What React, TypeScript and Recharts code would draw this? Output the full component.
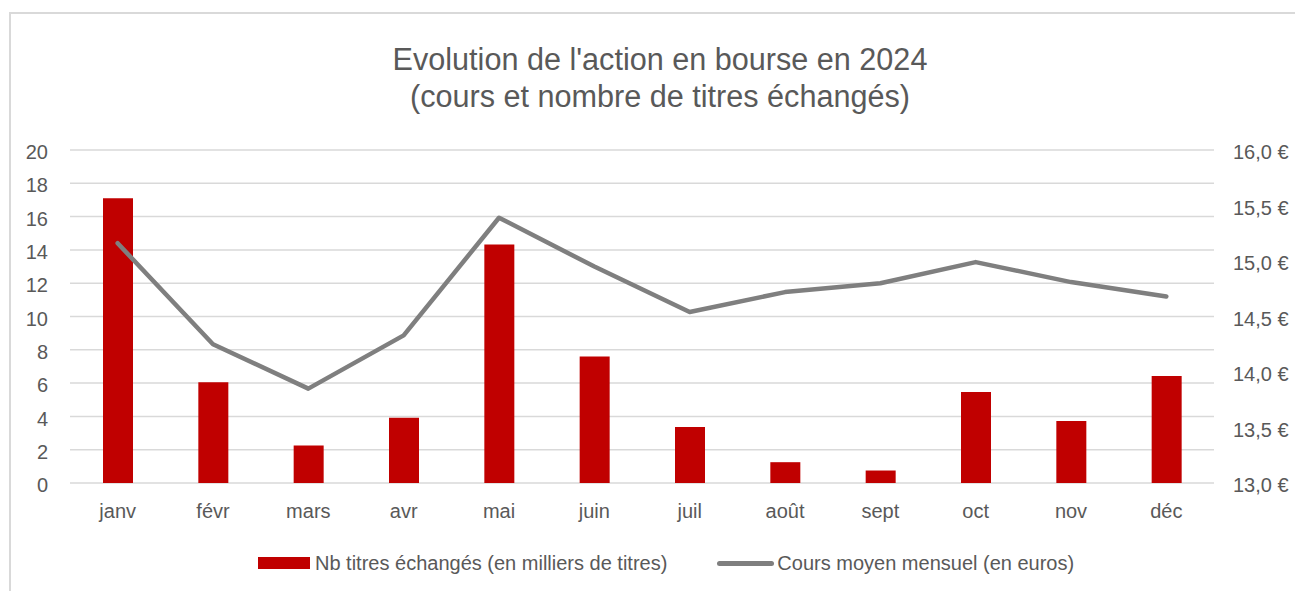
import React from 'react';
import { ComposedChart, Bar, Line, XAxis, YAxis, CartesianGrid, Legend } from 'recharts';

const months = ['janv', 'févr', 'mars', 'avr', 'mai', 'juin', 'juil', 'août', 'sept', 'oct', 'nov', 'déc'];
// thousands of shares traded
const volumes = [17.1, 6.05, 2.25, 3.92, 14.32, 7.6, 3.36, 1.25, 0.75, 5.46, 3.72, 6.42];
// monthly average price (euros)
const prices = [15.16, 14.25, 13.85, 14.33, 15.39, 14.95, 14.54, 14.72, 14.8, 14.99, 14.81, 14.68];
const leftTicks = [0, 2, 4, 6, 8, 10, 12, 14, 16, 18, 20];
const rightTicks = [13, 13.5, 14, 14.5, 15, 15.5, 16];

const FONT = '"Liberation Sans", Arial, sans-serif';
const TEXT = '#595959';
const BAR = '#c00000';
const LINE = '#7f7f7f';

const data = months.map((m, i) => ({ month: m, volume: volumes[i], price: prices[i] }));

const formatEuro = (v: number) => `${v.toFixed(1).replace('.', ',')} €`;

const renderLegend = (props: any) => {
  // bars first, like the Excel legend
  const payload = [...(props.payload || [])].sort(
    (a: any, b: any) => (a.type === 'line' ? 1 : 0) - (b.type === 'line' ? 1 : 0)
  );
  return (
    <div
      style={{
        display: 'flex',
        alignItems: 'center',
        height: 40,
        paddingLeft: 258,
        fontFamily: FONT,
        fontSize: 20,
        color: TEXT,
        whiteSpace: 'nowrap',
      }}
    >
      {payload.map((entry: any, i: number) => (
        <div key={i} style={{ display: 'flex', alignItems: 'center', marginRight: 50 }}>
          {entry.type === 'line' ? (
            <div style={{ width: 57, height: 5, borderRadius: 3, background: LINE, marginRight: 3 }} />
          ) : (
            <div style={{ width: 52, height: 12, background: BAR, marginRight: 5 }} />
          )}
          <span>{entry.value}</span>
        </div>
      ))}
    </div>
  );
};

export default function App() {
  return (
    <div style={{ position: 'absolute', left: 0, top: 0, width: 1295, height: 591, background: '#fff', overflow: 'hidden' }}>
      <div
        style={{
          position: 'absolute',
          left: 9,
          top: 12,
          width: 1300,
          height: 600,
          border: '2px solid #d9d9d9',
          boxSizing: 'border-box',
        }}
      />
      <div
        style={{
          position: 'absolute',
          left: 310,
          top: 41,
          width: 700,
          textAlign: 'center',
          fontFamily: FONT,
          fontSize: 30.6,
          lineHeight: '36.5px',
          color: TEXT,
        }}
      >
        Evolution de l'action en bourse en 2024
        <br />
        (cours et nombre de titres échangés)
      </div>
      <div style={{ position: 'absolute', left: 0, top: 0 }}>
        <ComposedChart width={1295} height={591} data={data} margin={{ top: 150, right: 0, bottom: 28, left: 0 }}>
          <CartesianGrid yAxisId="left" vertical={false} stroke="#d9d9d9" strokeWidth={1.5} />
          <XAxis
            dataKey="month"
            axisLine={false}
            tickLine={false}
            interval={0}
            height={40}
            tickMargin={15}
            tick={{ fill: TEXT, fontSize: 20, fontFamily: FONT }}
          />
          <YAxis
            yAxisId="left"
            domain={[0, 20]}
            ticks={leftTicks}
            axisLine={false}
            tickLine={false}
            width={70}
            tickMargin={16}
            tick={{ fill: TEXT, fontSize: 20, fontFamily: FONT, dy: 2 }}
          />
          <YAxis
            yAxisId="right"
            orientation="right"
            domain={[13, 16]}
            ticks={rightTicks}
            axisLine={false}
            tickLine={false}
            width={81}
            tickMargin={13}
            tickFormatter={formatEuro}
            tick={{ fill: TEXT, fontSize: 20, fontFamily: FONT, dy: 2 }}
          />
          <Bar
            yAxisId="left"
            dataKey="volume"
            name="Nb titres échangés (en milliers de titres)"
            fill={BAR}
            barSize={30}
            legendType="rect"
            isAnimationActive={false}
          />
          <Line
            yAxisId="right"
            type="linear"
            dataKey="price"
            name="Cours moyen mensuel (en euros)"
            stroke={LINE}
            strokeWidth={4.5}
            strokeLinecap="round"
            strokeLinejoin="round"
            dot={false}
            activeDot={false}
            legendType="line"
            isAnimationActive={false}
          />
          <Legend
            content={renderLegend}
            wrapperStyle={{ top: 543, left: 0, width: 1295, height: 40 }}
          />
        </ComposedChart>
      </div>
    </div>
  );
}
